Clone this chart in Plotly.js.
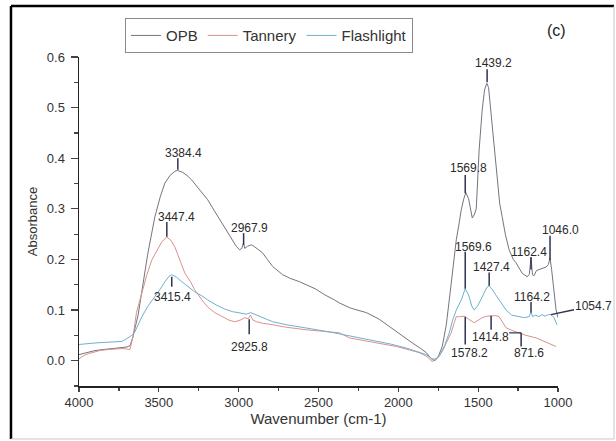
<!DOCTYPE html>
<html>
<head>
<meta charset="utf-8">
<script src="https://cdn.plot.ly/plotly-3.0.1.min.js"></script>
<style>html,body{margin:0;padding:0;background:#fff;}#chart{width:616px;height:441px;}</style>
</head>
<body>
<div id="chart"></div>
<script>
// ---- data (wavenumber cm-1, absorbance) ----
const opbX = [4000,3950,3900,3850,3800,3750,3700,3680,3662,3630,3606,3570,3525,3490,3462,3430,3400,3384,3350,3320,3294,3250,3194,3150,3106,3070,3044,3015,2994,2980,2970,2962,2945,2920,2900,2850,2820,2787,2725,2680,2619,2560,2520,2500,2460,2400,2369,2300,2200,2120,2056,1980,1912,1860,1825,1800,1787,1770,1750,1725,1700,1681,1660,1637,1620,1606,1590,1577,1560,1545,1537,1525,1512,1494,1475,1460,1446,1435,1421,1400,1381,1365,1350,1330,1306,1280,1262,1225,1194,1180,1169,1160,1150,1135,1119,1100,1085,1075,1060,1050,1040,1025,1012,1000];
const opbY = [0.012,0.016,0.020,0.022,0.024,0.025,0.027,0.030,0.047,0.090,0.140,0.210,0.284,0.325,0.351,0.366,0.374,0.376,0.372,0.365,0.357,0.340,0.318,0.295,0.272,0.252,0.239,0.226,0.219,0.222,0.233,0.222,0.226,0.229,0.225,0.213,0.200,0.186,0.170,0.163,0.156,0.148,0.142,0.138,0.130,0.120,0.114,0.104,0.095,0.082,0.067,0.050,0.035,0.024,0.016,0.006,0.002,0.000,0.008,0.028,0.070,0.120,0.180,0.239,0.270,0.298,0.320,0.332,0.320,0.290,0.282,0.288,0.300,0.416,0.495,0.535,0.548,0.540,0.495,0.416,0.360,0.310,0.285,0.250,0.219,0.200,0.193,0.173,0.166,0.170,0.203,0.170,0.168,0.178,0.180,0.182,0.185,0.185,0.190,0.203,0.180,0.130,0.100,0.085];

const tanX = [4000,3970,3940,3900,3870,3819,3780,3731,3700,3681,3662,3640,3606,3575,3544,3510,3481,3450,3425,3400,3370,3337,3300,3275,3230,3194,3150,3106,3060,3025,2990,2962,2940,2926,2910,2887,2850,2787,2700,2575,2450,2369,2306,2250,2162,2080,2012,1940,1869,1820,1787,1760,1725,1700,1669,1650,1637,1610,1587,1560,1525,1500,1475,1445,1419,1390,1369,1345,1325,1290,1244,1200,1137,1080,1040,1012];
const tanY = [0.004,0.010,0.014,0.018,0.020,0.022,0.023,0.024,0.023,0.022,0.047,0.095,0.134,0.170,0.199,0.220,0.235,0.244,0.238,0.225,0.200,0.173,0.155,0.140,0.120,0.106,0.095,0.087,0.080,0.077,0.080,0.085,0.083,0.090,0.080,0.077,0.074,0.071,0.066,0.061,0.058,0.055,0.045,0.042,0.037,0.033,0.028,0.022,0.016,0.008,-0.002,0.005,0.018,0.035,0.055,0.075,0.087,0.087,0.088,0.082,0.075,0.080,0.085,0.088,0.089,0.089,0.087,0.075,0.065,0.060,0.055,0.050,0.045,0.037,0.032,0.028];

const flaX = [4000,3950,3900,3850,3800,3731,3694,3670,3650,3630,3606,3570,3525,3490,3462,3435,3419,3390,3356,3320,3275,3230,3194,3140,3087,3040,2981,2950,2925,2900,2850,2787,2700,2575,2470,2369,2270,2162,2050,1950,1880,1825,1790,1770,1744,1710,1681,1660,1637,1606,1581,1560,1540,1525,1500,1470,1445,1431,1410,1390,1369,1325,1290,1244,1210,1180,1169,1160,1140,1120,1100,1080,1060,1044,1025,1006];
const flaY = [0.032,0.034,0.035,0.036,0.037,0.038,0.045,0.050,0.057,0.072,0.087,0.107,0.126,0.142,0.156,0.167,0.170,0.165,0.156,0.147,0.136,0.128,0.120,0.110,0.102,0.097,0.093,0.092,0.095,0.092,0.085,0.077,0.071,0.065,0.059,0.053,0.047,0.041,0.033,0.025,0.018,0.012,0.004,0.003,0.008,0.030,0.055,0.080,0.100,0.120,0.142,0.130,0.108,0.100,0.110,0.130,0.145,0.148,0.140,0.130,0.120,0.100,0.090,0.087,0.085,0.087,0.097,0.087,0.090,0.087,0.091,0.088,0.091,0.091,0.085,0.071];

const seriesNames = ["OPB","Tannery","Flashlight"];
const xTicks = [4000,3500,3000,2500,2000,1500,1000];

// peak labels: text, text position (x,y), leader line (x, y0, y1)
const lblText = ["3384.4","3447.4","2967.9","3415.4","2925.8","1569.8","1439.2","1569.6","1427.4","1162.4","1046.0","1164.2","1578.2","1414.8","871.6"];
const lblX    = [3344,3387,2931,3412,2934,1562,1406,1528,1416,1184,1050,1166,1556,1422,1181];
const lblY    = [0.410,0.284,0.262,0.126,0.028,0.381,0.588,0.225,0.185,0.215,0.258,0.126,0.016,0.047,0.016];
const lineX   = [3381,3450,2969,3419,2934,1581,1444,1581,1431,1169,1050,1169,1581,1419,1231];
const lineY0  = [0.400,0.274,0.252,0.166,0.082,0.367,0.576,0.215,0.174,0.205,0.247,0.116,0.087,0.089,0.055];
const lineY1  = [0.377,0.245,0.229,0.146,0.052,0.331,0.550,0.142,0.148,0.180,0.199,0.095,0.032,0.061,0.028];
// extra label with slanted leader
const sideLabel = {text:"1054.7", x:1044, y:0.091};

const colors = ["#74747f","#d9928a","#6fb0cf"];
const leaderColor = "#2e3352";
const fontFam = "Liberation Sans, Arial, sans-serif";

const traces = [[opbX,opbY],[tanX,tanY],[flaX,flaY]].map((d,i)=>({
  x:d[0], y:d[1], type:"scatter", mode:"lines", name:seriesNames[i],
  line:{color:colors[i], width:1}
}));

const shapes = [];
for(let i=0;i<lblText.length;i++){
  shapes.push({type:"line", xref:"x", yref:"y", x0:lineX[i], x1:lineX[i], y0:lineY0[i], y1:lineY1[i], line:{color:leaderColor, width:1.5}});
}
// 871.6 bent leader horizontal part
shapes.push({type:"line", xref:"x", yref:"y", x0:1306, x1:1231, y0:0.055, y1:0.055, line:{color:leaderColor, width:1.2}});
// outer frame
shapes.push({type:"line", xref:"paper", yref:"paper", x0:-0.142, x1:-0.142, y0:-0.161, y1:1.155, line:{color:"#000", width:2.5}});
shapes.push({type:"line", xref:"paper", yref:"paper", x0:-0.142, x1:1.117, y0:1.155, y1:1.155, line:{color:"#000", width:2.5}});
shapes.push({type:"line", xref:"paper", yref:"paper", x0:1.117, x1:1.117, y0:-0.161, y1:1.155, line:{color:"#c8c8c8", width:1}});
shapes.push({type:"line", xref:"paper", yref:"paper", x0:-0.142, x1:1.117, y0:-0.161, y1:-0.161, line:{color:"#c8c8c8", width:1}});

const annotations = lblText.map((t,i)=>({
  text:t, x:lblX[i], y:lblY[i], xref:"x", yref:"y", showarrow:false,
  xanchor:"center", yanchor:"middle", xshift:(t==="1046.0"?10:0),
  font:{family:fontFam, size:12, color:"#2a2a2a"}
}));
annotations.push({
  text:sideLabel.text, x:sideLabel.x, y:sideLabel.y, xref:"x", yref:"y",
  showarrow:true, arrowhead:0, arrowwidth:1.5, arrowcolor:leaderColor,
  ax:43, ay:-9, axref:"pixel", ayref:"pixel", standoff:0,
  font:{family:fontFam, size:12, color:"#2a2a2a"}
});
annotations.push({
  text:"(c)", x:0.996, y:1.082, xref:"paper", yref:"paper", showarrow:false,
  xanchor:"center", yanchor:"middle", font:{family:fontFam, size:16, color:"#222"}
});

const layout = {
  width:616, height:441,
  margin:{l:79, r:58, t:57, b:55},
  paper_bgcolor:"#fff", plot_bgcolor:"#fff",
  font:{family:fontFam, color:"#333"},
  showlegend:true,
  legend:{orientation:"h", x:0.096, y:1.118, xanchor:"left", yanchor:"top",
          bordercolor:"#8a8a8a", borderwidth:1, font:{size:15, color:"#333", family:fontFam},
          bgcolor:"#fff", tracegroupgap:0, itemwidth:30},
  xaxis:{range:[4000,1000], tickvals:xTicks, ticks:"outside", ticklen:4, tickwidth:1.2,
         showline:true, linecolor:"#222", linewidth:1.5, showgrid:false, zeroline:false,
         tickfont:{size:13, color:"#333"},
         minor:{dtick:250, ticks:"outside", ticklen:3, tickwidth:1.2, showgrid:false},
         title:{text:"Wavenumber (cm-1)", font:{size:15, color:"#333"}, standoff:4}},
  yaxis:{range:[-0.05,0.6], dtick:0.1, tick0:0, tickformat:".1f", ticks:"outside", ticklen:7, tickwidth:1.2,
         showline:true, linecolor:"#222", linewidth:1.5, showgrid:false, zeroline:false,
         tickfont:{size:13, color:"#333"}, ticklabelstandoff:3,
         minor:{dtick:0.05, tick0:0, ticks:"outside", ticklen:4, tickwidth:1.2, showgrid:false},
         title:{text:"Absorbance", font:{size:13, color:"#333"}, standoff:6}},
  shapes:shapes, annotations:annotations
};

Plotly.newPlot("chart", traces, layout, {displayModeBar:false, staticPlot:true});
</script>
</body>
</html>
